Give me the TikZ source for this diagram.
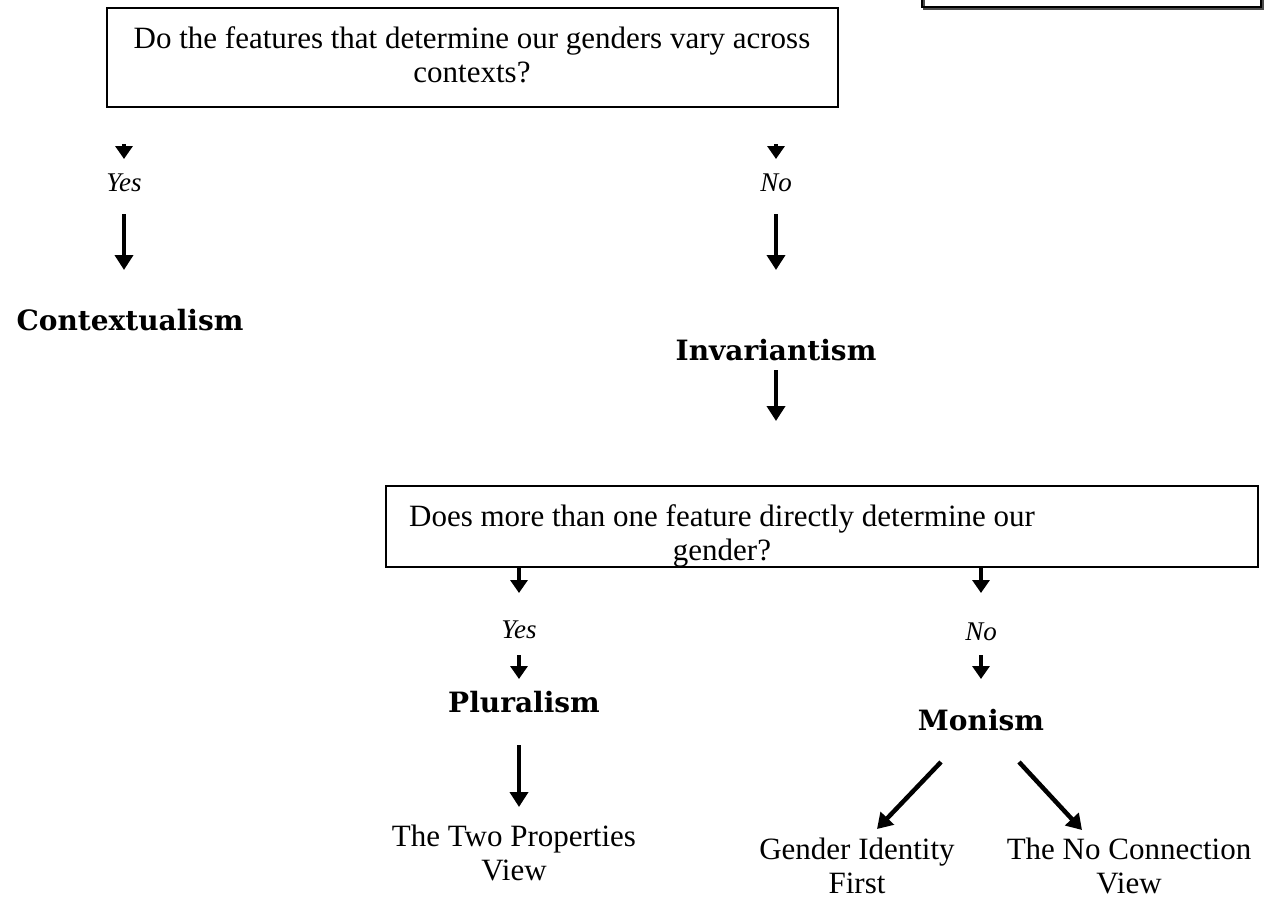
\documentclass[tikz,border=0pt]{standalone}
\usepackage{fontspec}
\setmainfont{Liberation Serif}
\newfontfamily\labfont{DejaVu Serif}
\usetikzlibrary{arrows.meta}
\begin{document}
\begin{tikzpicture}[x=1pt,y=-1pt,
  qbox/.style={draw,line width=2.6pt},
  qtext/.style={inner sep=0pt,align=center,font=\fontsize{31}{34}\selectfont},
  answer/.style={inner sep=0pt,font=\fontsize{27}{30}\selectfont\itshape},
  theory/.style={inner sep=0pt,font=\labfont\bfseries\fontsize{28}{32}\selectfont},
  view/.style={inner sep=0pt,align=center,font=\fontsize{31}{34}\selectfont},
  flow/.style={line width=4.5pt,-{Triangle[width=18pt,length=15pt]}},
  stub/.style={line width=4.5pt,-{Triangle[width=17pt,length=13pt]}}]
\useasboundingbox (0,0) rectangle (1269,900);

% box cut by the top edge
\draw[qbox,draw=black!70] (924,-12) rectangle (1263,9);
\draw[qbox] (922,-12) rectangle (1261,7);

% first question
\draw[qbox] (107,8) rectangle (838,107);
\node[qtext] (q1) at (472,55) {Do the features that determine our genders vary across\\contexts?};

\node[answer] (yes1) at (124,183) {Yes};
\node[answer] (no1) at (776,183) {No};
\node[theory] (ctx) at (130,320) {Contextualism};
\node[theory] (inv) at (776,350) {Invariantism};

\coordinate (y1a) at (124,144);
\coordinate (y1b) at (124,159);
\coordinate (n1a) at (776,144);
\coordinate (n1b) at (776,159);
\draw[stub] (y1a) -- (y1b);
\draw[stub] (n1a) -- (n1b);
\draw[flow] (yes1.south |- 0,214) -- (yes1.south |- 0,270);
\draw[flow] (no1.south |- 0,214) -- (no1.south |- 0,270);
\draw[flow] (inv.south |- 0,370) -- (inv.south |- 0,421);

% second question
\draw[qbox] (386,486) rectangle (1258,567);
\node[qtext] (q2) at (722,536) {Does more than one feature directly determine our\\gender?};

\node[answer] (yes2) at (519,630) {Yes};
\node[answer] (no2) at (981,632) {No};
\node[theory] (plu) at (524,702) {Pluralism};
\node[theory] (mon) at (981,720) {Monism};

\draw[stub] (519,567) -- (519,593);
\draw[stub] (981,567) -- (981,593);
\draw[stub] (519,655) -- (519,679);
\draw[stub] (981,655) -- (981,679);

\node[view] (two) at (514,853) {The Two Properties\\View};
\node[view] (gif) at (857,866) {Gender Identity\\First};
\node[view] (noc) at (1129,866) {The No Connection\\View};

\draw[flow] (519,745) -- (519,807);
\coordinate (ml) at (941,762);
\coordinate (mr) at (1019,762);
\draw[flow] (ml) -- (877,829);
\draw[flow] (mr) -- (1082,830);
\end{tikzpicture}
\end{document}
